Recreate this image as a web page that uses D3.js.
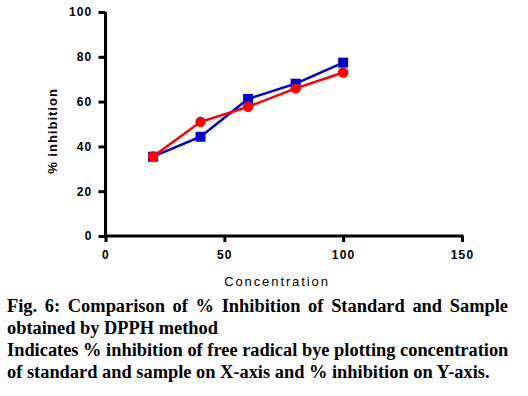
<!DOCTYPE html>
<meta charset="utf-8">
<style>
body { margin: 0; background: #fff; }
.tick text { font: bold 12px Arial, "Liberation Sans", sans-serif; letter-spacing: 1.2px; fill: #000; }
.caption {
  position: absolute; left: 7px; top: 295px; width: 501px;
  font: bold 18.4px "Liberation Serif", "Times New Roman", serif;
  line-height: 22px; color: #000;
}
.caption div { text-align: left; white-space: nowrap; }
.caption .just { text-align: justify; text-align-last: justify; }
</style>
<body>
<script src="https://d3js.org/d3.v7.min.js"></script>
<script>

// data
var concentration = [20, 40, 60, 80, 100];
var standard = [35.4, 44.3, 61.2, 68.0, 77.4];   // blue squares
var sample = [35.5, 51.0, 57.7, 65.9, 73.0];     // red circles
var xTicks = [0, 50, 100, 150];
var yTicks = [0, 20, 40, 60, 80, 100];

var W = 528, H = 396;

var svg = d3.select("body").append("svg")
    .attr("width", W)
    .attr("height", H)
    .style("position", "absolute")
    .style("left", 0).style("top", 0);

// set the ranges
var x = d3.scaleLinear().domain([0, 150]).range([105.5, 462]);
var y = d3.scaleLinear().domain([0, 100]).range([236, 12]);

// X axis
var gx = svg.append("g")
    .attr("transform", "translate(0," + y(0) + ")")
    .call(d3.axisBottom(x).tickValues(xTicks).tickSize(6).tickPadding(8).tickFormat(d3.format("d")));
gx.select(".domain").attr("stroke-width", 3).attr("d", "M" + (x(0) - 1.5) + ",0H" + (x(150) + 1.5));
gx.selectAll(".tick line").attr("stroke-width", 3);

// Y axis
var gy = svg.append("g")
    .attr("transform", "translate(" + x(0) + ",0)")
    .call(d3.axisLeft(y).tickValues(yTicks).tickSize(7).tickPadding(6).tickFormat(d3.format("d")));
gy.select(".domain").attr("stroke-width", 3).attr("d", "M0," + (y(0) + 1.5) + "V" + y(100));
gy.selectAll(".tick line").attr("stroke-width", 3);

// axis titles
svg.append("text")
    .attr("x", 277).attr("y", 286)
    .attr("text-anchor", "middle")
    .style("font", "13px Arial, 'Liberation Sans', sans-serif")
    .style("letter-spacing", "1.9px")
    .text("Concentration");

svg.append("text")
    .attr("transform", "translate(57,131) rotate(-90)")
    .attr("text-anchor", "middle")
    .style("font", "bold 13px Arial, 'Liberation Sans', sans-serif")
    .style("letter-spacing", "1px")
    .text("% inhibition");

var line = d3.line()
    .x(function(d, i) { return x(concentration[i]); })
    .y(function(d) { return y(d); });

// standard (blue)
svg.append("path")
    .datum(standard)
    .attr("fill", "none")
    .attr("stroke", "#0000c0")
    .attr("stroke-width", 2.5)
    .attr("d", line);
svg.selectAll(".sq")
    .data(standard)
  .enter().append("rect")
    .attr("class", "sq")
    .attr("x", function(d, i) { return x(concentration[i]) - 5; })
    .attr("y", function(d) { return y(d) - 5; })
    .attr("width", 10).attr("height", 10)
    .attr("fill", "#0000c0");

// sample (red)
svg.append("path")
    .datum(sample)
    .attr("fill", "none")
    .attr("stroke", "#ff0000")
    .attr("stroke-width", 2.5)
    .attr("d", line);
svg.selectAll(".dot")
    .data(sample)
  .enter().append("circle")
    .attr("class", "dot")
    .attr("cx", function(d, i) { return x(concentration[i]); })
    .attr("cy", function(d) { return y(d); })
    .attr("r", 5.2)
    .attr("fill", "#ff0000");

// caption
var cap = d3.select("body").append("div").attr("class", "caption");
cap.append("div").attr("class", "just").text("Fig. 6: Comparison of % Inhibition of Standard and Sample");
cap.append("div").text("obtained by DPPH method");
cap.append("div").text("Indicates % inhibition of free radical bye plotting concentration");
cap.append("div").text("of standard and sample on X-axis and % inhibition on Y-axis.");

</script>
</body>
